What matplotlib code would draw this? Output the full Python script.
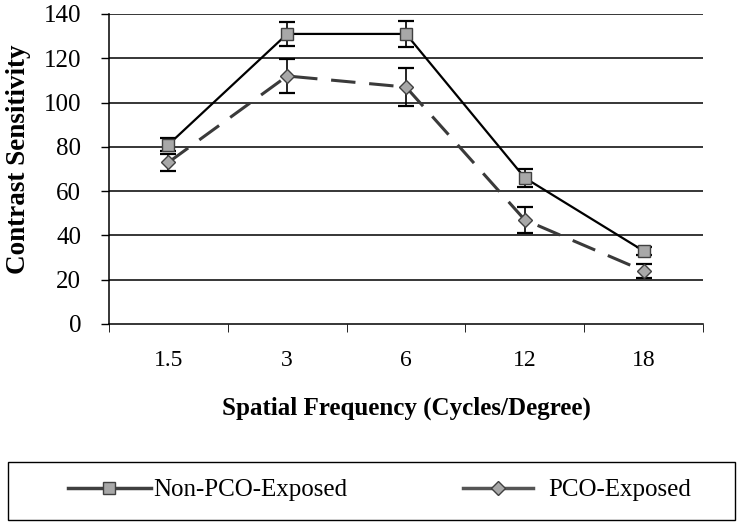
import matplotlib
matplotlib.use("Agg")
import matplotlib.pyplot as plt
from matplotlib.patches import Rectangle
from matplotlib.lines import Line2D
import numpy as np

categories = ["1.5", "3", "6", "12", "18"]
non_pco = [81, 131, 131, 66, 33]
non_pco_err = [3, 5.5, 6, 4, 2]
pco = [73, 112, 107, 47, 24]
pco_err = [4, 7.5, 8.5, 6, 3]
yticks = [0, 20, 40, 60, 80, 100, 120, 140]
series_labels = ["Non-PCO-Exposed", "PCO-Exposed"]

plt.rcParams['font.family'] = ['Liberation Serif', 'DejaVu Serif']

fig = plt.figure(figsize=(7.39, 5.22), dpi=100)
ax = fig.add_axes([109 / 739, 1 - 324 / 522, 594 / 739, 310 / 522])

x = np.arange(len(categories))
marker_fc = '#a8a8a8'
ax.errorbar(x, non_pco, yerr=non_pco_err, color='black', lw=1.6, marker='s',
            markersize=8, markerfacecolor=marker_fc, markeredgecolor='#404040',
            ecolor='black', elinewidth=1.2, capsize=5.5, capthick=1.6,
            zorder=3)
ax.errorbar(x, pco, yerr=pco_err, color='#3a3a3a', lw=2.2, marker='D',
            markersize=7, markerfacecolor=marker_fc, markeredgecolor='#404040',
            ecolor='black', elinewidth=1.2, capsize=5.5, capthick=1.6,
            dashes=(8, 4.5), zorder=3)

ax.set_xlim(-0.5, len(categories) - 0.5)
ax.set_ylim(0, 140)
ax.set_yticks(yticks)
ax.set_yticklabels([str(v) for v in yticks], fontsize=18)
ax.set_xticks(x)
ax.set_xticklabels(categories, fontsize=17)
ax.set_xticks(np.arange(len(categories) + 1) - 0.5, minor=True)
ax.tick_params(axis='x', which='major', length=0, pad=19)
ax.tick_params(axis='x', which='minor', length=6, direction='out', color='black')
ax.tick_params(axis='y', length=6, width=1.0, direction='out', color='black', pad=14)

for v in yticks[1:]:
    ax.axhline(v, color='black', lw=1.1, zorder=1)

ax.spines['top'].set_visible(False)
ax.spines['right'].set_visible(False)
ax.spines['left'].set_linewidth(1.1)
ax.spines['bottom'].set_linewidth(1.1)

ax.set_ylabel('Contrast Sensitivity', fontsize=19.5, fontweight='bold')
ax.yaxis.set_label_coords(-0.131, 0.53)
ax.set_xlabel('Spatial Frequency (Cycles/Degree)', fontsize=18, fontweight='bold')
ax.xaxis.set_label_coords(0.5, -0.235)

# legend frame
fig.patches.append(Rectangle((8 / 739, 2 / 522), 727 / 739, 58 / 522,
                             transform=fig.transFigure, fill=False,
                             edgecolor='black', lw=1.0))

h1 = Line2D([], [], color='#404040', lw=2.5, marker='s', markersize=8,
            markerfacecolor=marker_fc, markeredgecolor='#404040')
h2 = Line2D([], [], color='#555555', lw=2.5, marker='D', markersize=7,
            markerfacecolor=marker_fc, markeredgecolor='#404040')
leg1 = fig.legend([h1], [series_labels[0]], loc='center left',
                  bbox_to_anchor=(68 / 739, 1 - 490 / 522), fontsize=18,
                  frameon=False, handlelength=3.3, handletextpad=0.1,
                  borderpad=0, borderaxespad=0)
leg2 = fig.legend([h2], [series_labels[1]], loc='center left',
                  bbox_to_anchor=(463 / 739, 1 - 490 / 522), fontsize=18,
                  frameon=False, handlelength=2.8, handletextpad=0.6,
                  borderpad=0, borderaxespad=0)

fig.savefig('out.png', dpi=100)
